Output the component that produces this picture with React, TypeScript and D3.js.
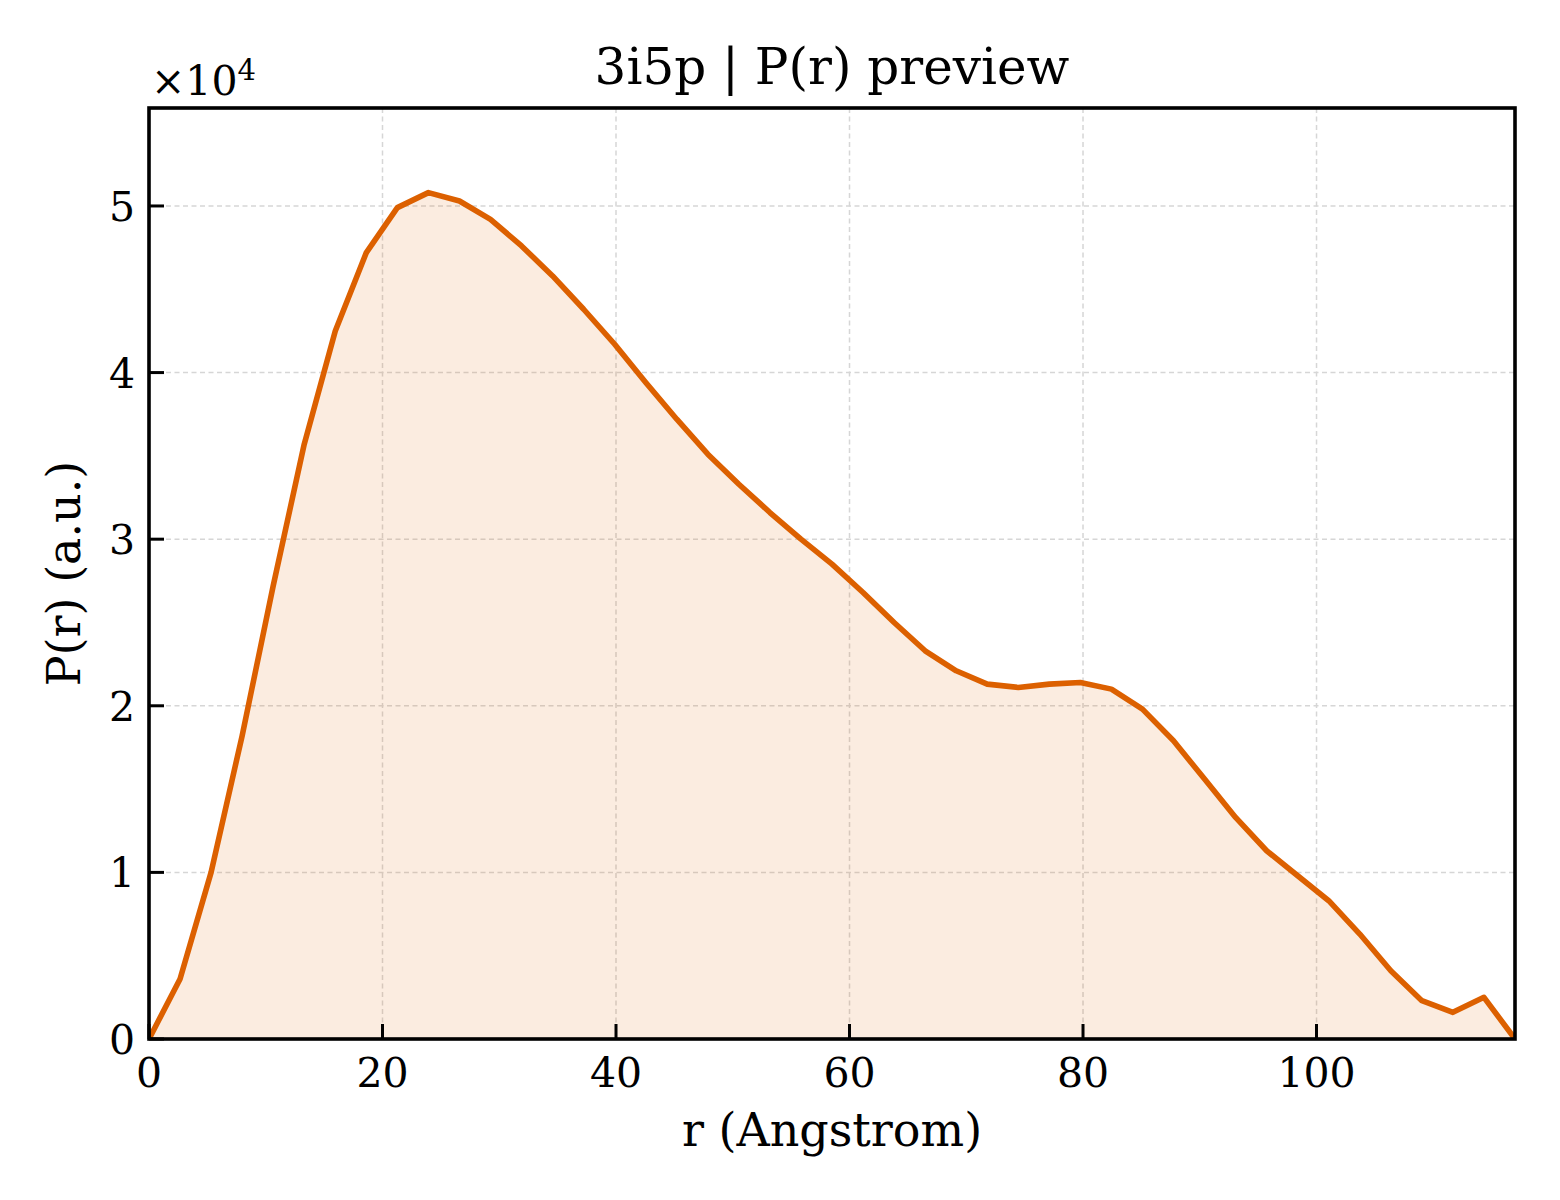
import React from "react";
import * as d3 from "d3";

const rValues: number[] = Array.from({ length: 45 }, (_, i) => (117 * i) / 44);
const pValues: number[] = [
  0, 0.36, 1.0, 1.82, 2.72, 3.57, 4.25, 4.72, 4.99, 5.08, 5.03, 4.92, 4.76, 4.58, 4.38,
  4.17, 3.94, 3.72, 3.51, 3.33, 3.16, 3.0, 2.85, 2.68, 2.5, 2.33, 2.21, 2.13, 2.11, 2.13,
  2.14, 2.1, 1.98, 1.79, 1.56, 1.33, 1.13, 0.98, 0.83, 0.63, 0.41, 0.23, 0.16, 0.25, 0,
].map((v) => v * 1e4);
const xTicks: number[] = [0, 20, 40, 60, 80, 100];
const yTicks: number[] = [0, 1, 2, 3, 4, 5].map((v) => v * 1e4);

const W = 1560;
const H = 1200;
const L = 149, R = 1515, T = 108, B = 1039;
const FONT = "'DejaVu Serif', serif";
const COLOR = "#dc6000";

export default function App() {
  const x = d3.scaleLinear().domain([0, 117]).range([L, R]);
  const y = d3.scaleLinear().domain([0, 55880]).range([B, T]);
  const pts: [number, number][] = rValues.map((r, i) => [r, pValues[i]]);
  const line = d3.line<[number, number]>().x((d) => x(d[0])).y((d) => y(d[1]));
  const area = d3
    .area<[number, number]>()
    .x((d) => x(d[0]))
    .y0(y(0))
    .y1((d) => y(d[1]));
  return (
    <div style={{ position: "absolute", left: 0, top: 0 }}>
      <svg width={W} height={H} style={{ display: "block", background: "#fff" }}>
        <defs>
          <clipPath id="plotclip">
            <rect x={L} y={T} width={R - L} height={B - T} />
          </clipPath>
        </defs>
        {xTicks.filter((t) => t > 0).map((t) => (
          <line key={"gx" + t} x1={x(t)} x2={x(t)} y1={T} y2={B} stroke="#d6d6d6" strokeWidth={1.5} strokeDasharray="5,3.5" />
        ))}
        {yTicks.filter((t) => t > 0).map((t) => (
          <line key={"gy" + t} x1={L} x2={R} y1={y(t)} y2={y(t)} stroke="#d6d6d6" strokeWidth={1.5} strokeDasharray="5,3.5" />
        ))}
        <g clipPath="url(#plotclip)">
          <path d={area(pts) || ""} fill={COLOR} fillOpacity={0.12} />
          <path d={line(pts) || ""} fill="none" stroke={COLOR} strokeWidth={5.6} strokeLinejoin="round" />
        </g>
        {xTicks.map((t) => (
          <g key={"xt" + t}>
            <line x1={x(t)} x2={x(t)} y1={B} y2={B - 15} stroke="#000" strokeWidth={3} />
            <text x={x(t)} y={1087} textAnchor="middle" fontFamily={FONT} fontSize={41}>{t}</text>
          </g>
        ))}
        {yTicks.map((t) => (
          <g key={"yt" + t}>
            <line x1={L} x2={L + 15} y1={y(t)} y2={y(t)} stroke="#000" strokeWidth={3} />
            <text x={135} y={y(t) + 15} textAnchor="end" fontFamily={FONT} fontSize={41}>{t / 1e4}</text>
          </g>
        ))}
        <rect x={L} y={T} width={R - L} height={B - T} fill="none" stroke="#000" strokeWidth={3.6} />
        <text x={151} y={95} fontFamily={FONT} fontSize={41}>
          ×10<tspan dy={-15} fontSize={29}>4</tspan>
        </text>
        <text x={(L + R) / 2} y={84} textAnchor="middle" fontFamily={FONT} fontSize={50}>3i5p | P(r) preview</text>
        <text x={(L + R) / 2} y={1146} textAnchor="middle" fontFamily={FONT} fontSize={46}>r (Angstrom)</text>
        <text transform={`translate(80,${(T + B) / 2}) rotate(-90)`} textAnchor="middle" fontFamily={FONT} fontSize={46}>P(r) (a.u.)</text>
      </svg>
    </div>
  );
}
